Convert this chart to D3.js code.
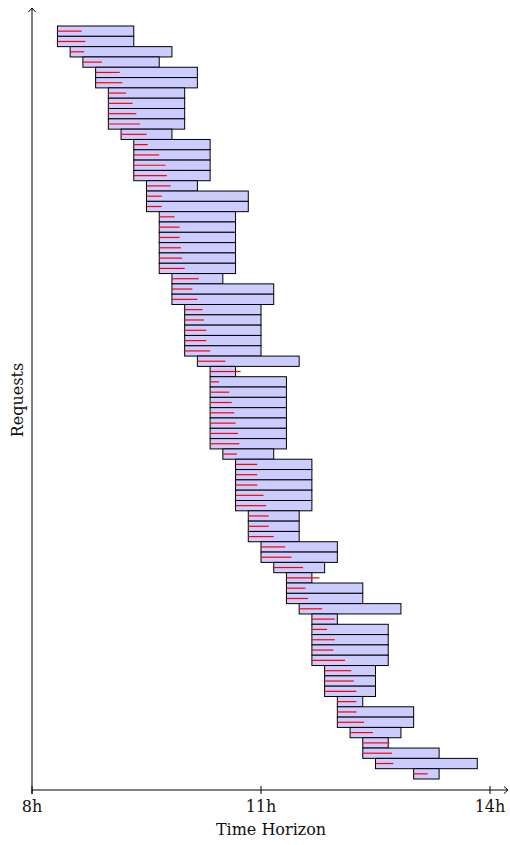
<!DOCTYPE html>
<html>
<head>
<meta charset="utf-8">
<script src="https://cdn.jsdelivr.net/npm/d3@7"></script>
<style>
  body { margin: 0; background: #fff; }
  text { font-family: "DejaVu Serif", serif; fill: #111; }
</style>
</head>
<body>
<div id="chart"></div>
<script>
var svgWidth = 510, svgHeight = 845;

// each request: time window (start, end) and the red wait segment in minutes
var starts = ["8:20","8:20","8:30","8:40","8:50","8:50","9:00","9:00","9:00","9:00",
              "9:10","9:20","9:20","9:20","9:20","9:30","9:30","9:30","9:40","9:40",
              "9:40","9:40","9:40","9:40","9:50","9:50","9:50","10:00","10:00","10:00",
              "10:00","10:00","10:10","10:20","10:20","10:20","10:20","10:20","10:20","10:20",
              "10:20","10:30","10:40","10:40","10:40","10:40","10:40","10:50","10:50","10:50",
              "11:00","11:00","11:10","11:20","11:20","11:20","11:30","11:40","11:40","11:40",
              "11:40","11:40","11:50","11:50","11:50","12:00","12:00","12:00","12:10","12:20",
              "12:20","12:30","13:00"];
var ends = ["9:20","9:20","9:50","9:40","10:10","10:10","10:00","10:00","10:00","10:00",
            "9:50","10:20","10:20","10:20","10:20","10:10","10:50","10:50","10:40","10:40",
            "10:40","10:40","10:40","10:40","10:30","11:10","11:10","11:00","11:00","11:00",
            "11:00","11:00","11:30","10:40","11:20","11:20","11:20","11:20","11:20","11:20",
            "11:20","11:10","11:40","11:40","11:40","11:40","11:40","11:30","11:30","11:30",
            "12:00","12:00","11:50","11:40","12:20","12:20","12:50","12:00","12:40","12:40",
            "12:40","12:40","12:30","12:30","12:30","12:20","13:00","13:00","12:50","12:40",
            "13:20","13:50","13:20"];
var waits = [19,22,11,15,19,21,14,19,22,25,
             20,11,20,25,26,19,12,12,12,16,
             16,17,18,20,21,16,20,14,15,17,
             17,20,22,24,7,15,17,19,20,22,
             23,11,17,17,17,22,24,16,16,20,
             19,24,23,26,15,17,18,18,12,18,
             17,26,21,23,25,15,15,21,18,21,
             23,14,11];

var tickValues = [8, 11, 14];
var tickLabels = ["8h", "11h", "14h"];

function toHours(s){
  var p = s.split(":");
  return +p[0] + (+p[1])/60;
}

var requests = starts.map(function(s, i){
  return { id: i, start: toHours(s), end: toHours(ends[i]), wait: waits[i]/60 };
});

var x = d3.scaleLinear().domain([8, 14]).range([32, 490]);
var y = d3.scaleBand().domain(d3.range(requests.length)).range([26, 779]).padding(0);

var axisY = 790, axisTop = 8, axisRight = 508;

var svg = d3.select("#chart")
  .append("svg")
  .attr("width", svgWidth)
  .attr("height", svgHeight);

// bars
var groups = svg.append("g").selectAll("g")
  .data(requests)
  .enter()
  .append("g");

groups.append("rect")
  .attr("x", d => x(d.start))
  .attr("y", d => y(d.id))
  .attr("width", d => x(d.end) - x(d.start))
  .attr("height", y.bandwidth())
  .attr("fill", "#ccccff")
  .attr("stroke", "#000")
  .attr("stroke-width", 1);

groups.append("line")
  .attr("x1", d => x(d.start))
  .attr("x2", d => x(d.start + d.wait))
  .attr("y1", d => y(d.id) + y.bandwidth()/2)
  .attr("y2", d => y(d.id) + y.bandwidth()/2)
  .attr("stroke", "#ff0000")
  .attr("stroke-width", 1.2);

// axes
var axes = svg.append("g").attr("stroke", "#000").attr("fill", "none").attr("stroke-width", 1);
axes.append("line").attr("x1", x(8)).attr("x2", axisRight).attr("y1", axisY).attr("y2", axisY);
axes.append("line").attr("x1", x(8)).attr("x2", x(8)).attr("y1", axisY + 4).attr("y2", axisTop);
axes.append("path").attr("d", "M" + (axisRight - 4) + "," + (axisY - 3.5) + " L" + axisRight + "," + axisY + " L" + (axisRight - 4) + "," + (axisY + 3.5));
axes.append("path").attr("d", "M" + (x(8) - 3.5) + "," + (axisTop + 4) + " L" + x(8) + "," + axisTop + " L" + (x(8) + 3.5) + "," + (axisTop + 4));

axes.selectAll("line.tick")
  .data(tickValues)
  .enter()
  .append("line")
  .attr("class", "tick")
  .attr("x1", d => x(d)).attr("x2", d => x(d))
  .attr("y1", axisY - 4).attr("y2", axisY + 4);

svg.selectAll("text.ticklabel")
  .data(tickValues)
  .enter()
  .append("text")
  .attr("class", "ticklabel")
  .attr("x", d => x(d))
  .attr("y", 812)
  .attr("text-anchor", "middle")
  .style("font-size", "16px")
  .text((d, i) => tickLabels[i]);

svg.append("text")
  .attr("x", 271)
  .attr("y", 835)
  .attr("text-anchor", "middle")
  .style("font-size", "16px")
  .text("Time Horizon");

svg.append("text")
  .attr("transform", "translate(23,400) rotate(-90)")
  .attr("text-anchor", "middle")
  .style("font-size", "16px")
  .text("Requests");
</script>
</body>
</html>
